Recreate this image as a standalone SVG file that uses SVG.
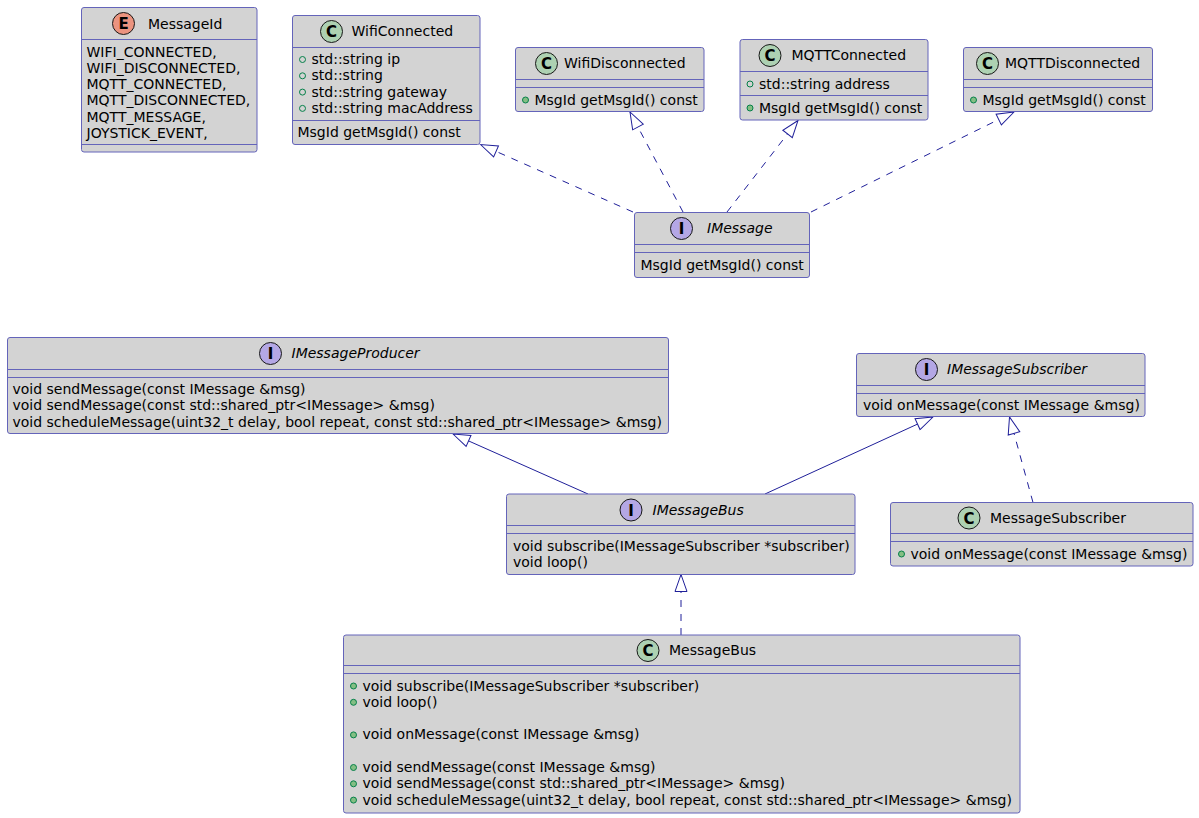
<svg xmlns="http://www.w3.org/2000/svg" width="1199" height="818" viewBox="0 0 1199 818">
<style>
.box{fill:#D3D3D3;stroke:#6464BA;stroke-width:1}
.sep{stroke:#6464BA;stroke-width:1}
text{font-family:"DejaVu Sans",Verdana,sans-serif;font-size:14px;fill:#000}
.it{font-style:italic}
.ic{font-weight:bold;font-size:15px;text-anchor:middle}
.cC{fill:#ADD1B2;stroke:#181818;stroke-width:1}
.cE{fill:#EB937F;stroke:#181818;stroke-width:1}
.cI{fill:#B4A7E5;stroke:#181818;stroke-width:1}
.fo{fill:none;stroke:#038048;stroke-width:1}
.mo{fill:#84BE84;stroke:#038048;stroke-width:1}
.e{fill:none;stroke:#1F1F99;stroke-width:1}
.d{stroke-dasharray:7,7}
</style>
<defs>
<marker id="tri" markerUnits="userSpaceOnUse" viewBox="-19 -7 20 14" refX="0" refY="0" markerWidth="20" markerHeight="14" orient="auto">
<path d="M0,0 L-17,-6 L-17,6 Z" fill="#FFFFFF" stroke="#1F1F99" stroke-width="1"/>
</marker>
</defs>

<g id="connectors">
<path class="e d" d="M633,212 L480.5,144.5" marker-end="url(#tri)"/>
<path class="e d" d="M683,212 L630,112" marker-end="url(#tri)"/>
<path class="e d" d="M727,212 L798,120.5" marker-end="url(#tri)"/>
<path class="e d" d="M811,212 L1014,112" marker-end="url(#tri)"/>
<path class="e" d="M588,494 L453,434" marker-end="url(#tri)"/>
<path class="e" d="M765,494 L933,417" marker-end="url(#tri)"/>
<path class="e d" d="M1033,502.5 L1009.5,417" marker-end="url(#tri)"/>
<path class="e d" d="M681,635 L681,574.5" marker-end="url(#tri)"/>
</g>

<g id="MessageId">
<rect class="box" x="81.5" y="7.5" width="175.5" height="144.5" rx="2.5"/>
<line class="sep" x1="81.5" y1="39.5" x2="257" y2="39.5"/>
<line class="sep" x1="81.5" y1="144.5" x2="257" y2="144.5"/>
<circle class="cE" cx="123.5" cy="23.5" r="11"/>
<text class="ic" x="123.5" y="29">E</text>
<text x="148" y="28.5">MessageId</text>
<text x="86.5" y="56.5">WIFI_CONNECTED,</text>
<text x="86.5" y="72.8">WIFI_DISCONNECTED,</text>
<text x="86.5" y="89.1">MQTT_CONNECTED,</text>
<text x="86.5" y="105.4">MQTT_DISCONNECTED,</text>
<text x="86.5" y="121.7">MQTT_MESSAGE,</text>
<text x="86.5" y="138">JOYSTICK_EVENT,</text>
</g>

<g id="WifiConnected">
<rect class="box" x="292.5" y="15.5" width="187.5" height="129" rx="2.5"/>
<line class="sep" x1="292.5" y1="47.5" x2="480" y2="47.5"/>
<line class="sep" x1="292.5" y1="120.5" x2="480" y2="120.5"/>
<circle class="cC" cx="331.5" cy="31.5" r="11"/>
<text class="ic" x="331.5" y="37">C</text>
<text x="351.5" y="36">WifiConnected</text>
<circle class="fo" cx="302.5" cy="59.5" r="3"/>
<text x="311.5" y="64">std::string ip</text>
<circle class="fo" cx="302.5" cy="75.8" r="3"/>
<text x="311.5" y="80.3">std::string</text>
<circle class="fo" cx="302.5" cy="92.1" r="3"/>
<text x="311.5" y="96.6">std::string gateway</text>
<circle class="fo" cx="302.5" cy="108.4" r="3"/>
<text x="311.5" y="112.9">std::string macAddress</text>
<text x="297.5" y="137">MsgId getMsgId() const</text>
</g>

<g id="WifiDisconnected">
<rect class="box" x="515.5" y="47.5" width="188.5" height="64" rx="2.5"/>
<line class="sep" x1="515.5" y1="79.5" x2="704" y2="79.5"/>
<line class="sep" x1="515.5" y1="87.5" x2="704" y2="87.5"/>
<circle class="cC" cx="546.5" cy="63.5" r="11"/>
<text class="ic" x="546.5" y="69">C</text>
<text x="564" y="68">WifiDisconnected</text>
<circle class="mo" cx="525.5" cy="100" r="3"/>
<text x="534.5" y="104.5">MsgId getMsgId() const</text>
</g>

<g id="MQTTConnected">
<rect class="box" x="740" y="39.5" width="188" height="80.5" rx="2.5"/>
<line class="sep" x1="740" y1="71.5" x2="928" y2="71.5"/>
<line class="sep" x1="740" y1="95.5" x2="928" y2="95.5"/>
<circle class="cC" cx="770" cy="55.5" r="11"/>
<text class="ic" x="770" y="61">C</text>
<text x="791.5" y="60">MQTTConnected</text>
<circle class="fo" cx="750" cy="84" r="3"/>
<text x="759" y="88.5">std::string address</text>
<circle class="mo" cx="750" cy="108" r="3"/>
<text x="759" y="112.5">MsgId getMsgId() const</text>
</g>

<g id="MQTTDisconnected">
<rect class="box" x="963.5" y="47.5" width="189" height="64" rx="2.5"/>
<line class="sep" x1="963.5" y1="79.5" x2="1152.5" y2="79.5"/>
<line class="sep" x1="963.5" y1="87.5" x2="1152.5" y2="87.5"/>
<circle class="cC" cx="987.5" cy="63.5" r="11"/>
<text class="ic" x="987.5" y="69">C</text>
<text x="1005" y="68">MQTTDisconnected</text>
<circle class="mo" cx="973.5" cy="100" r="3"/>
<text x="982.5" y="104.5">MsgId getMsgId() const</text>
</g>

<g id="IMessage">
<rect class="box" x="634.5" y="212.5" width="175" height="65" rx="2.5"/>
<line class="sep" x1="634.5" y1="244.5" x2="809.5" y2="244.5"/>
<line class="sep" x1="634.5" y1="252.5" x2="809.5" y2="252.5"/>
<circle class="cI" cx="681.5" cy="228.5" r="11"/>
<text class="ic" x="681.5" y="234">I</text>
<text class="it" x="707" y="233">IMessage</text>
<text x="640.5" y="269.5">MsgId getMsgId() const</text>
</g>

<g id="IMessageProducer">
<rect class="box" x="7.5" y="337.5" width="661" height="96" rx="2.5"/>
<line class="sep" x1="7.5" y1="369.5" x2="668.5" y2="369.5"/>
<line class="sep" x1="7.5" y1="377.5" x2="668.5" y2="377.5"/>
<circle class="cI" cx="270.5" cy="353.5" r="11"/>
<text class="ic" x="270.5" y="359">I</text>
<text class="it" x="291.5" y="358">IMessageProducer</text>
<text x="12.5" y="394">void sendMessage(const IMessage &amp;msg)</text>
<text x="12.5" y="410.3">void sendMessage(const std::shared_ptr&lt;IMessage&gt; &amp;msg)</text>
<text x="12.5" y="426.6">void scheduleMessage(uint32_t delay, bool repeat, const std::shared_ptr&lt;IMessage&gt; &amp;msg)</text>
</g>

<g id="IMessageSubscriber">
<rect class="box" x="856.5" y="353.5" width="288.5" height="63" rx="2.5"/>
<line class="sep" x1="856.5" y1="385.5" x2="1145" y2="385.5"/>
<line class="sep" x1="856.5" y1="393.5" x2="1145" y2="393.5"/>
<circle class="cI" cx="926.5" cy="369.5" r="11"/>
<text class="ic" x="926.5" y="375">I</text>
<text class="it" x="947" y="374">IMessageSubscriber</text>
<text x="863" y="410">void onMessage(const IMessage &amp;msg)</text>
</g>

<g id="MessageSubscriber">
<rect class="box" x="890.5" y="502.5" width="302.5" height="63.5" rx="2.5"/>
<line class="sep" x1="890.5" y1="533.5" x2="1193" y2="533.5"/>
<line class="sep" x1="890.5" y1="541.5" x2="1193" y2="541.5"/>
<circle class="cC" cx="969" cy="518" r="11"/>
<text class="ic" x="969" y="523.5">C</text>
<text x="990" y="523">MessageSubscriber</text>
<circle class="mo" cx="901.5" cy="554" r="3"/>
<text x="910.5" y="558.5">void onMessage(const IMessage &amp;msg)</text>
</g>

<g id="IMessageBus">
<rect class="box" x="506.5" y="494" width="348.5" height="80.5" rx="2.5"/>
<line class="sep" x1="506.5" y1="525.5" x2="855" y2="525.5"/>
<line class="sep" x1="506.5" y1="533.5" x2="855" y2="533.5"/>
<circle class="cI" cx="631" cy="510" r="11"/>
<text class="ic" x="631" y="515.5">I</text>
<text class="it" x="652.5" y="515">IMessageBus</text>
<text x="513" y="550.5">void subscribe(IMessageSubscriber *subscriber)</text>
<text x="513" y="566.8">void loop()</text>
</g>

<g id="MessageBus">
<rect class="box" x="343.5" y="635" width="676.5" height="178" rx="2.5"/>
<line class="sep" x1="343.5" y1="665.5" x2="1020" y2="665.5"/>
<line class="sep" x1="343.5" y1="673.5" x2="1020" y2="673.5"/>
<circle class="cC" cx="648" cy="650.5" r="11"/>
<text class="ic" x="648" y="656">C</text>
<text x="669" y="655">MessageBus</text>
<circle class="mo" cx="353.5" cy="686" r="3"/>
<text x="362.5" y="690.5">void subscribe(IMessageSubscriber *subscriber)</text>
<circle class="mo" cx="353.5" cy="702.3" r="3"/>
<text x="362.5" y="706.8">void loop()</text>
<circle class="mo" cx="353.5" cy="734.9" r="3"/>
<text x="362.5" y="739.4">void onMessage(const IMessage &amp;msg)</text>
<circle class="mo" cx="353.5" cy="767.5" r="3"/>
<text x="362.5" y="772">void sendMessage(const IMessage &amp;msg)</text>
<circle class="mo" cx="353.5" cy="783.8" r="3"/>
<text x="362.5" y="788.3">void sendMessage(const std::shared_ptr&lt;IMessage&gt; &amp;msg)</text>
<circle class="mo" cx="353.5" cy="800.1" r="3"/>
<text x="362.5" y="804.6">void scheduleMessage(uint32_t delay, bool repeat, const std::shared_ptr&lt;IMessage&gt; &amp;msg)</text>
</g>
</svg>
